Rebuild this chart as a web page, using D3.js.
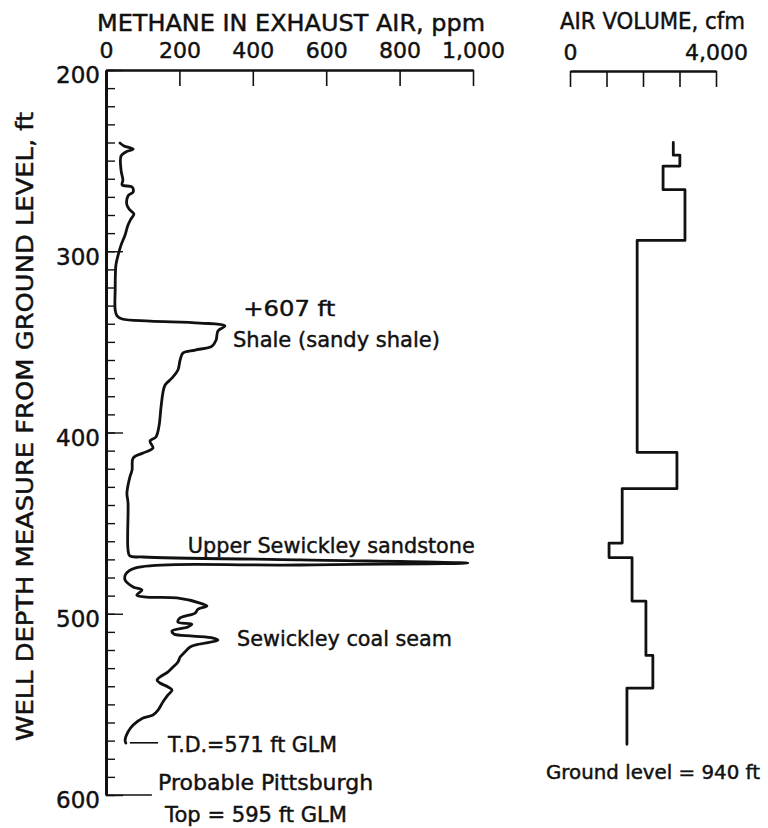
<!DOCTYPE html>
<html>
<head>
<meta charset="utf-8">
<script src="https://cdn.jsdelivr.net/npm/d3@7"></script>
<style>
  html, body { margin: 0; padding: 0; background: #fff; }
  svg { display: block; }
  text { font-family: "DejaVu Sans", "Liberation Sans", sans-serif; fill: #111; stroke: #111; stroke-width: 0.45px; }
</style>
</head>
<body>
<svg id="chart" width="768" height="828"></svg>
<script>
// ---------------- DATA ----------------
// Methane in exhaust air (ppm) versus well depth (ft)
const methaneDepth = [240.3,241.9,243.6,245.2,247.4,255.2,260.7,263.4,264.6,267.3,269.5,274.5,277.2,279.4,282.2,285.5,291.0,296.6,302.1,307.6,321.4,332.4,335.7,337.4,338.5,339.6,341.2,344.0,349.0,352.3,354.5,356.1,360.0,365.5,369.9,373.8,378.2,385.9,397.0,402.5,404.7,408.6,411.3,414.1,420.7,424.6,433.4,438.9,464.8,468.1,468.7,470.3,472.0,473.1,474.8,478.1,481.4,485.2,486.9,489.7,490.8,491.3,494.1,495.7,497.4,499.6,502.3,504.6,505.7,507.3,509.5,511.2,512.3,513.4,514.5,516.7,518.3,521.1,523.9,526.6,529.9,532.1,534.9,536.6,538.2,540.4,542.1,544.8,548.7,553.1,555.9,557.5,561.4,565.2,569.7,571.3];
const methanePpm = [38,49,74,54,41,41,46,44,71,74,60,57,65,76,68,60,52,41,33,27,25,25,30,44,120,256,324,305,300,289,243,210,202,196,180,161,155,150,144,136,120,128,101,74,71,65,57,60,60,65,101,529,986,529,79,54,52,74,98,84,112,193,256,275,251,243,202,196,234,223,180,185,237,292,305,256,229,215,202,196,180,169,147,139,147,169,180,169,155,142,128,101,74,60,52,54];

// Air volume (cfm): step boundaries (ft) and value in each interval
const airBreaks = [240, 247, 253, 266, 294, 411, 431, 461, 469, 493, 523, 541, 572];
const airCfm = [2830, 3010, 2550, 3150, 1840, 2930, 1430, 1070, 1700, 2080, 2270, 1560];

// Tick labels
const depthTicks = [200, 300, 400, 500, 600];
const methaneTicks = [0, 200, 400, 600, 800, 1000];
const methaneTickLabels = ["0", "200", "400", "600", "800", "1,000"];
const airTicks = [0, 1000, 2000, 3000, 4000];
const airTickLabels = {0: "0", 4000: "4,000"};

// Annotations (depth in ft, ppm for horizontal anchor)
const annotations = [
  {text: "+607 ft", ppm: 374, depth: 335.7, len: 92},
  {text: "Shale (sandy shale)", ppm: 346, depth: 352.8, len: 207},
  {text: "Upper Sewickley sandstone", ppm: 223, depth: 466.5, len: 287},
  {text: "Sewickley coal seam", ppm: 357, depth: 518.0, len: 215},
  {text: "T.D.=571 ft GLM", ppm: 169, depth: 576.3, len: 169},
  {text: "Probable Pittsburgh", ppm: 142, depth: 597.2, len: 215},
  {text: "Top = 595 ft GLM", ppm: 161, depth: 614.9, len: 182}
];

// ---------------- CHART ----------------
const svg = d3.select("#chart");

const x = d3.scaleLinear().domain([0, 1000]).range([106, 473]);
const y = d3.scaleLinear().domain([200, 600]).range([70, 795]);
const xa = d3.scaleLinear().domain([0, 4000]).range([570, 716]);

// Top methane axis
const topAxis = svg.append("g").attr("transform", `translate(0,${y(200)})`)
  .call(d3.axisTop(x).tickValues(methaneTicks).tickSize(-16).tickSizeOuter(0).tickPadding(12)
    .tickFormat((d, i) => methaneTickLabels[i]));
topAxis.select(".domain").attr("stroke", "#111").attr("stroke-width", 2.4);
topAxis.selectAll(".tick line").attr("stroke", "#111").attr("stroke-width", 1.6);
topAxis.selectAll(".tick text").attr("font-size", 22).attr("fill", "#111").style("font-family", "DejaVu Sans");

// Left depth axis: minor ticks every 10 ft
const minorAxis = svg.append("g").attr("transform", `translate(${x(0)},0)`)
  .call(d3.axisLeft(y).tickValues(d3.range(200, 601, 10)).tickSize(-9).tickSizeOuter(0).tickFormat(""));
minorAxis.select(".domain").attr("stroke", "#111").attr("stroke-width", 3);
minorAxis.selectAll(".tick line").attr("stroke", "#111").attr("stroke-width", 1.4);

const majorAxis = svg.append("g").attr("transform", `translate(${x(0)},0)`)
  .call(d3.axisLeft(y).tickValues(depthTicks).tickSize(-17).tickSizeOuter(0).tickPadding(6)
    .tickFormat(d3.format("d")));
majorAxis.select(".domain").remove();
majorAxis.selectAll(".tick line").attr("stroke", "#111").attr("stroke-width", 1.4);
majorAxis.selectAll(".tick text").attr("font-size", 23).attr("dy", "0.56em").attr("fill", "#111").style("font-family", "DejaVu Sans");

// Right air volume axis
const airAxis = svg.append("g").attr("transform", `translate(0,${y(200) + 1})`)
  .call(d3.axisTop(xa).tickValues(airTicks).tickSize(-16).tickSizeOuter(0).tickPadding(11)
    .tickFormat(d => airTickLabels[d] || ""));
airAxis.select(".domain").attr("stroke", "#111").attr("stroke-width", 2.4);
airAxis.selectAll(".tick line").attr("stroke", "#111").attr("stroke-width", 1.6);
airAxis.selectAll(".tick text").attr("font-size", 22).attr("fill", "#111").style("font-family", "DejaVu Sans");

// Titles
svg.append("text").attr("x", 97).attr("y", 31).attr("font-size", 23)
  .attr("textLength", 388).attr("lengthAdjust", "spacingAndGlyphs")
  .text("METHANE IN EXHAUST AIR, ppm");
svg.append("text").attr("x", 560).attr("y", 29).attr("font-size", 23)
  .attr("textLength", 185).attr("lengthAdjust", "spacingAndGlyphs")
  .text("AIR VOLUME, cfm");
svg.append("text").attr("transform", "translate(33,741) rotate(-90)").attr("font-size", 23)
  .attr("textLength", 629).attr("lengthAdjust", "spacingAndGlyphs")
  .text("WELL DEPTH MEASURE FROM GROUND LEVEL, ft");

// Methane curve
const methanePts = methaneDepth.map((d, i) => [methanePpm[i], d]);
svg.append("path").datum(methanePts)
  .attr("fill", "none").attr("stroke", "#111").attr("stroke-width", 2.8)
  .attr("stroke-linejoin", "round").attr("stroke-linecap", "round")
  .attr("d", d3.line().x(d => x(d[0])).y(d => y(d[1])).curve(d3.curveCatmullRom.alpha(0.5)));

// Air volume step line
const airPts = [];
airCfm.forEach((v, i) => { airPts.push([v, airBreaks[i]]); airPts.push([v, airBreaks[i + 1]]); });
svg.append("path").datum(airPts)
  .attr("fill", "none").attr("stroke", "#111").attr("stroke-width", 2.8)
  .attr("stroke-linejoin", "round").attr("stroke-linecap", "round")
  .attr("d", d3.line().x(d => xa(d[0])).y(d => y(d[1])));

// Leader lines
svg.append("line").attr("x1", x(65)).attr("x2", x(142)).attr("y1", y(571.2)).attr("y2", y(571.2))
  .attr("stroke", "#111").attr("stroke-width", 1.6);
svg.append("line").attr("x1", x(0)).attr("x2", x(125)).attr("y1", y(600)).attr("y2", y(600))
  .attr("stroke", "#111").attr("stroke-width", 1.6);

// Annotation texts
annotations.forEach(a => {
  svg.append("text").attr("x", x(a.ppm)).attr("y", y(a.depth)).attr("font-size", 22)
    .attr("textLength", a.len).attr("lengthAdjust", "spacingAndGlyphs").text(a.text);
});
svg.append("text").attr("x", 546).attr("y", 779).attr("font-size", 19)
  .attr("textLength", 214).attr("lengthAdjust", "spacingAndGlyphs").text("Ground level = 940 ft");
</script>
</body>
</html>
